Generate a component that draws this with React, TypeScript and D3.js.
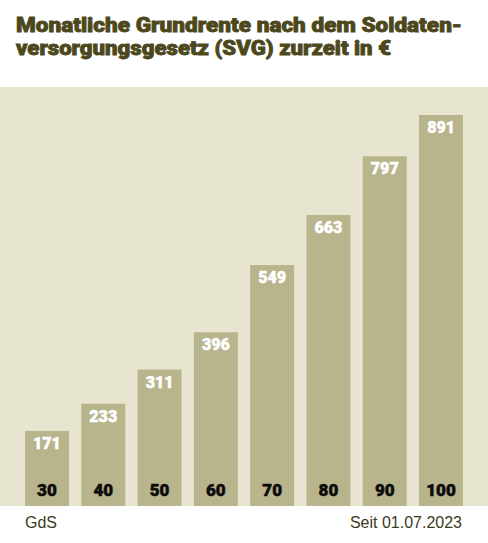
import { useRef, useEffect } from 'react';
import * as d3 from 'd3';

const categories = ['30', '40', '50', '60', '70', '80', '90', '100'];
const values = [171, 233, 311, 396, 549, 663, 797, 891];
const titleLines = [
  'Monatliche Grundrente nach dem Soldaten-',
  'versorgungsgesetz (SVG) zurzeit in €',
];
const sourceLabel = 'GdS';
const dateLabel = 'Seit 01.07.2023';

const W = 488;
const H = 543;
const panelTop = 87;
const panelBottom = 506;

const heavy = "Roboto, 'Liberation Sans', Arial, sans-serif";
const sans = "'Liberation Sans', Arial, Helvetica, sans-serif";

const App = () => {
  const svgRef = useRef<SVGSVGElement>(null);

  useEffect(() => {
    const svg = d3.select(svgRef.current)
      .attr('width', W)
      .attr('height', H);

    svg.selectAll('*').remove(); // start clean

    svg.append('rect')
      .attr('width', W)
      .attr('height', H)
      .attr('fill', '#ffffff');

    // title lines, each squeezed to the width of the original; stroke adds weight
    const titleWidths = [446, 375];
    svg.append('g')
      .selectAll('text')
      .data(titleLines)
      .enter()
      .append('text')
      .attr('x', 16)
      .attr('y', (_, i) => 31.5 + i * 23)
      .attr('textLength', (_, i) => titleWidths[i])
      .attr('lengthAdjust', 'spacingAndGlyphs')
      .attr('font-family', heavy)
      .attr('font-weight', 900)
      .attr('font-size', 19.5)
      .attr('fill', '#4c481c')
      .attr('stroke', '#4c481c')
      .attr('stroke-width', 0.8)
      .text(d => d);

    // beige panel
    svg.append('rect')
      .attr('x', 0)
      .attr('y', panelTop)
      .attr('width', W)
      .attr('height', panelBottom - panelTop)
      .attr('fill', '#e7e4d0');

    const xScale = d3.scaleBand()
      .domain(categories)
      .range([25, 463])
      .paddingInner(0.22)
      .paddingOuter(0);

    const yScale = d3.scaleLinear()
      .domain([0, d3.max(values) as number])
      .range([panelBottom, 115]);

    const bars = svg.append('g')
      .selectAll('g')
      .data(categories)
      .enter()
      .append('g');

    bars.append('rect')
      .attr('x', d => xScale(d) as number)
      .attr('y', (_, i) => yScale(values[i]))
      .attr('width', xScale.bandwidth())
      .attr('height', (_, i) => panelBottom - yScale(values[i]))
      .attr('fill', '#b8b48b');

    // values at the top of each bar
    bars.append('text')
      .attr('x', d => (xScale(d) as number) + xScale.bandwidth() / 2)
      .attr('y', (_, i) => yScale(values[i]) + 18)
      .attr('text-anchor', 'middle')
      .attr('font-family', heavy)
      .attr('font-weight', 900)
      .attr('font-size', 16)
      .attr('fill', '#ffffff')
      .attr('stroke', '#ffffff')
      .attr('stroke-width', 0.5)
      .text((_, i) => values[i]);

    // category labels at the bar feet
    bars.append('text')
      .attr('x', d => (xScale(d) as number) + xScale.bandwidth() / 2)
      .attr('y', panelBottom - 10)
      .attr('text-anchor', 'middle')
      .attr('font-family', heavy)
      .attr('font-weight', 900)
      .attr('font-size', 17)
      .attr('fill', '#0c0c0c')
      .attr('stroke', '#0c0c0c')
      .attr('stroke-width', 0.5)
      .text(d => d);

    // footer
    svg.append('text')
      .attr('x', 25)
      .attr('y', 528)
      .attr('font-family', sans)
      .attr('font-size', 16)
      .attr('fill', '#3c3a1c')
      .text(sourceLabel);

    svg.append('text')
      .attr('x', 462)
      .attr('y', 528)
      .attr('text-anchor', 'end')
      .attr('font-family', sans)
      .attr('font-size', 16)
      .attr('fill', '#3c3a1c')
      .text(dateLabel);
  }, []);

  return <svg ref={svgRef} style={{ position: 'absolute', left: 0, top: 0, display: 'block' }}></svg>;
};

export default App;
